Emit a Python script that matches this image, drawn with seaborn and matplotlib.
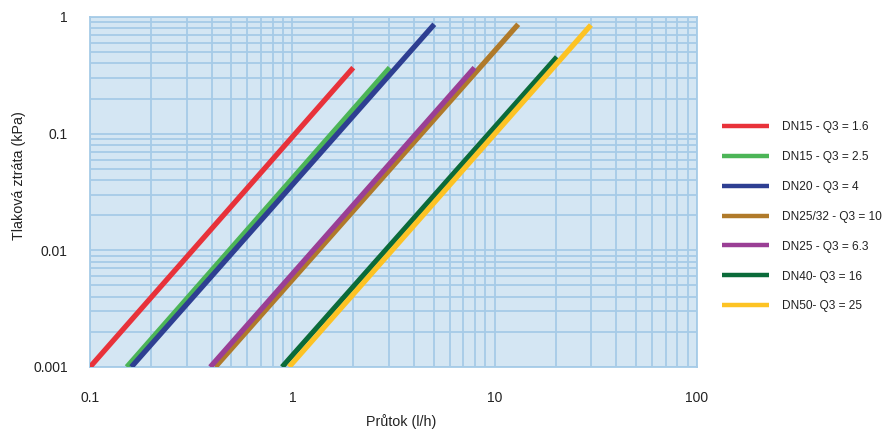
import pandas as pd
import numpy as np
import seaborn as sns
import matplotlib
matplotlib.use('Agg')
import matplotlib.pyplot as plt
from matplotlib.lines import Line2D
from matplotlib.ticker import LogLocator, NullFormatter, FixedLocator, FixedFormatter

# data (start and end point of each pressure loss line)
series = ["DN15 - Q3 = 1.6", "DN15 - Q3 = 2.5", "DN20 - Q3 = 4", "DN25/32 - Q3 = 10",
          "DN25 - Q3 = 6.3", "DN40- Q3 = 16", "DN50- Q3 = 25"]
q_start = [0.1, 0.152, 0.16, 0.416, 0.393, 0.89, 0.963]
q_end = [2.0, 3.03, 5.03, 13.07, 7.95, 20.3, 29.9]
dp_start = [0.001, 0.001, 0.001, 0.001, 0.001, 0.001, 0.001]
dp_end = [0.368, 0.368, 0.866, 0.866, 0.368, 0.454, 0.854]
colors = ["#e8323a", "#4cb557", "#2e3f92", "#b07a2a", "#9a3f95", "#0b6b3a", "#fdc324"]

x_ticks = [0.1, 1, 10, 100]
x_labels = ["0.1", "1", "10", "100"]
y_ticks = [0.001, 0.01, 0.1, 1]
y_labels = ["0.001", "0.01", "0.1", "1"]

df = pd.DataFrame({
    "serie": series * 2,
    "q": q_start + q_end,
    "dp": dp_start + dp_end,
})

sns.set_theme(style="white")
plt.rcParams['font.family'] = ['Liberation Sans', 'DejaVu Sans']

grid_col = "#a6cbe7"
fig = plt.figure(figsize=(8.86, 4.30), dpi=100)
ax = fig.add_axes([90 / 886, 1 - 367 / 430, 607 / 886, 350 / 430])
ax.set_facecolor("#d4e6f3")

palette = dict(zip(series, colors))
sns.lineplot(data=df, x="q", y="dp", hue="serie", palette=palette, linewidth=3.8,
             legend=False, ax=ax, solid_capstyle="butt", zorder=3)

ax.set_xscale("log")
ax.set_yscale("log")
ax.set_xlim(0.1, 100)
ax.set_ylim(0.001, 1)

ax.xaxis.set_major_locator(FixedLocator(x_ticks))
ax.xaxis.set_major_formatter(FixedFormatter(x_labels))
ax.yaxis.set_major_locator(FixedLocator(y_ticks))
ax.yaxis.set_major_formatter(FixedFormatter(y_labels))
ax.xaxis.set_minor_locator(LogLocator(base=10, subs=np.arange(2, 10)))
ax.yaxis.set_minor_locator(LogLocator(base=10, subs=np.arange(2, 10)))
ax.xaxis.set_minor_formatter(NullFormatter())
ax.yaxis.set_minor_formatter(NullFormatter())

ax.grid(True, which="both", color=grid_col, linewidth=1.3, zorder=1)
ax.set_axisbelow(True)
ax.tick_params(axis="x", which="major", length=5, width=1.3, color=grid_col,
               direction="out", pad=12, labelsize=10, labelcolor="#222222")
ax.tick_params(axis="y", which="major", length=7, width=1.3, color=grid_col,
               direction="out", pad=9, labelsize=10, labelcolor="#222222")
ax.tick_params(which="minor", length=0)
for s in ax.spines.values():
    s.set_color(grid_col)
    s.set_linewidth(1.3)

ax.set_xlabel("Průtok (l/h)", fontsize=10.3, color="#222222")
ax.set_ylabel("Tlaková ztráta (kPa)", fontsize=10.3, color="#222222")
ax.xaxis.set_label_coords(0.512, -0.134)
ax.yaxis.set_label_coords(-0.105, 0.546)

handles = [Line2D([0], [0], color=c, linewidth=3.2, solid_capstyle="butt") for c in colors]
leg = fig.legend(handles, series, loc="upper left", bbox_to_anchor=(722 / 886, 1 - 121 / 430),
                 frameon=False, fontsize=8.6, handlelength=3.95, handletextpad=1.1,
                 labelspacing=1.5, borderaxespad=0, borderpad=0)
for t in leg.get_texts():
    t.set_color("#222222")

fig.savefig("out.png", dpi=100)
